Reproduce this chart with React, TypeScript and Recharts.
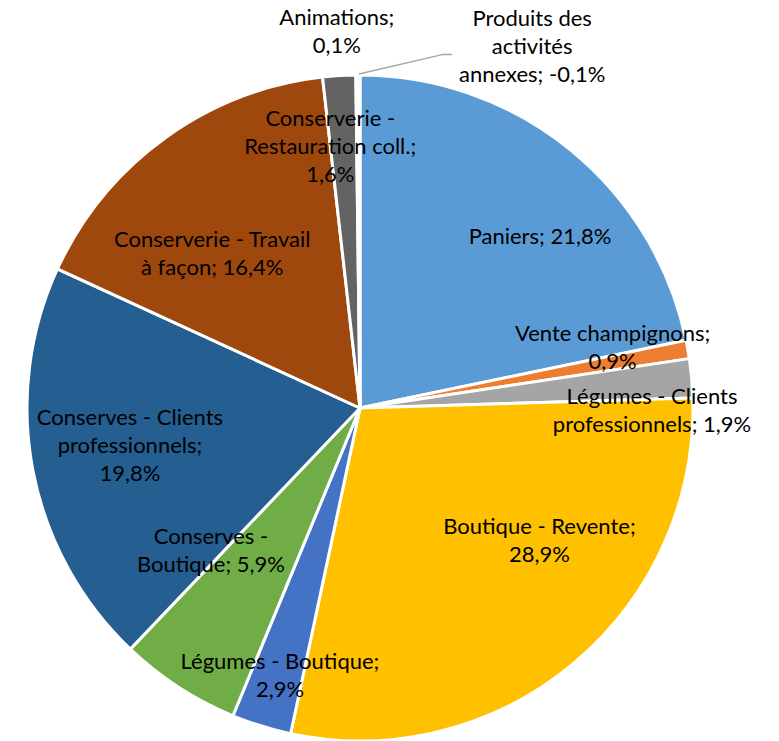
import React from 'react';
import { PieChart, Pie, Cell } from 'recharts';

// Répartition du chiffre d'affaires (%), dans l'ordre des secteurs (sens horaire depuis midi)
const categories = [
  'Paniers',
  'Vente champignons',
  'Légumes - Clients\nprofessionnels',
  'Boutique - Revente',
  'Légumes - Boutique',
  'Conserves -\nBoutique',
  'Conserves - Clients\nprofessionnels',
  'Conserverie - Travail\nà façon',
  'Conserverie -\nRestauration coll.',
  'Animations',
  'Produits des\nactivités\nannexes',
];
const valeurs = [21.8, 0.9, 1.9, 28.9, 2.9, 5.9, 19.8, 16.4, 1.6, 0.1, -0.1];
// le pourcentage passe à la ligne suivante ?
const retourLigne = [false, true, false, true, true, false, true, false, true, true, false];

const couleurs = [
  '#5B9BD5', '#ED7D31', '#A5A5A5', '#FFC000', '#4472C4', '#70AD47',
  '#255E91', '#9E480E', '#636363', '#997300', '#264478',
];

// position des étiquettes : [fraction du rayon, décalage angulaire en degrés (sens horaire)]
const positionEtiquettes: [number, number][] = [
  [0.745, 7.4], [0.78, -3.3], [0.877, 5.7], [0.67, -13.7], [0.84, -0.6], [0.62, 13.2],
  [0.7, 1.5], [0.64, -8], [0.79, -2.9], [1.13, -3], [1.2, 25.7],
];

const RAD = Math.PI / 180;
const LH = 28;

const formatPct = (v: number) => v.toFixed(1).replace('.', ',') + '%';

const donnees = categories.map((nom, i) => ({
  nom,
  valeur: valeurs[i],
  taille: Math.abs(valeurs[i]),
}));

const Etiquette = (props: any) => {
  const { cx, cy, midAngle, outerRadius, index } = props;
  const [frac, decal] = positionEtiquettes[index];
  const angle = (midAngle - decal) * RAD;
  const r = outerRadius * frac;
  const x = cx + r * Math.cos(angle);
  const y = cy - r * Math.sin(angle);
  const texte = `${categories[index]};${retourLigne[index] ? '\n' : ' '}${formatPct(valeurs[index])}`;
  const lignes = texte.split('\n');
  const debut = -((lignes.length - 1) / 2) * LH;

  let guide = null;
  if (index === categories.length - 1) {
    const sx = cx + (outerRadius + 1) * Math.cos(midAngle * RAD);
    const sy = cy - (outerRadius + 1) * Math.sin(midAngle * RAD);
    guide = (
      <polyline
        points={`${sx},${sy} ${x - 89},${y + 7} ${x - 80},${y + 7}`}
        fill="none"
        stroke="#A6A6A6"
        strokeWidth={1.5}
      />
    );
  }

  return (
    <g>
      {guide}
      <text
        x={x}
        y={y}
        textAnchor="middle"
        fill="#000"
        fontSize={22}
        fontFamily="Lato, 'Open Sans', sans-serif"
      >
        {lignes.map((l, k) => (
          <tspan key={k} x={x} dy={k === 0 ? debut + 7 : LH}>
            {l}
          </tspan>
        ))}
      </text>
    </g>
  );
};

export default function App() {
  return (
    <div style={{ position: 'absolute', left: 0, top: 0, width: 779, height: 741, background: '#fff' }}>
      <PieChart width={779} height={741}>
        <Pie
          data={donnees}
          dataKey="taille"
          nameKey="nom"
          cx={355}
          cy={403}
          outerRadius={333}
          startAngle={90}
          endAngle={-270}
          stroke="#fff"
          strokeWidth={3}
          label={Etiquette}
          labelLine={false}
          isAnimationActive={false}
        >
          {donnees.map((d, i) => (
            <Cell key={d.nom} fill={couleurs[i]} />
          ))}
        </Pie>
      </PieChart>
    </div>
  );
}
